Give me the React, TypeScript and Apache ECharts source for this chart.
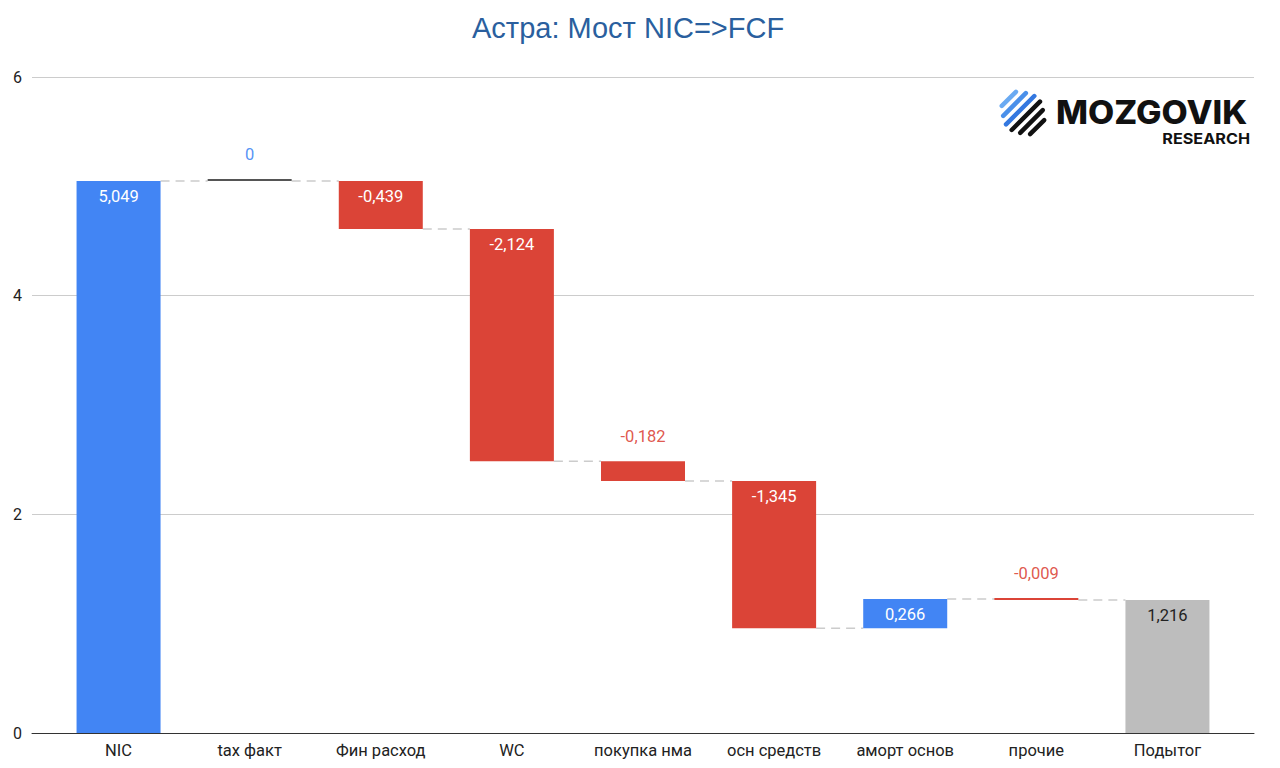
import { useEffect, useRef } from "react";
import * as echarts from "echarts";

const categories = [
  "NIC",
  "tax факт",
  "Фин расход",
  "WC",
  "покупка нма",
  "осн средств",
  "аморт основ",
  "прочие",
  "Подытог",
];
const values = [5.049, 0, -0.439, -2.124, -0.182, -1.345, 0.266, -0.009, 1.216];
const isTotal = [true, false, false, false, false, false, false, false, true];
// where the value label sits: inside the bar or above it
const labelInside = [true, false, true, true, false, true, true, false, true];
const yTicks = [0, 2, 4, 6];

const BLUE = "#4285F4";
const RED = "#DB4437";
const GRAY = "#BDBDBD";

const fmt = (v: number) => (v === 0 ? "0" : v.toFixed(3).replace(".", ","));

export default function App() {
  const chartRef = useRef<HTMLDivElement>(null);

  useEffect(() => {
    if (!chartRef.current) return;
    const chart = echarts.init(chartRef.current, null, { renderer: "svg" });

    // running totals -> invisible base + visible delta
    let running = 0;
    const base: number[] = [];
    const delta: any[] = [];
    const levels: number[] = [];
    values.forEach((v, i) => {
      let start: number, end: number;
      if (isTotal[i]) {
        start = 0;
        end = v;
      } else {
        start = running;
        end = running + v;
      }
      running = end;
      levels.push(end);
      base.push(Math.min(start, end));
      const last = isTotal[i] && i > 0;
      const color = last ? GRAY : v === 0 ? "#555555" : v > 0 ? BLUE : RED;
      const txtColor = last ? "#222222" : v >= 0 ? BLUE : RED;
      delta.push({
        value: Math.abs(v),
        itemStyle: { color },
        label: labelInside[i]
          ? { position: "insideTop", distance: 7, color: last ? "#222222" : "#ffffff" }
          : { position: "top", distance: 16, color: txtColor, opacity: 0.9 },
      });
    });
    const connectors = levels.slice(0, -1).map((lv, i) => [i, lv]);

    chart.setOption({
      animation: false,
      title: {
        text: "Астра: Мост NIC=>FCF",
        left: 467,
        top: 8,
        textStyle: {
          fontFamily: "Liberation Sans",
          fontSize: 29,
          fontWeight: "normal",
          color: "#2a5f9e",
        },
      },
      grid: [
        { left: 53, right: 47, top: 77, bottom: 35 },
        { left: 32, right: 26, top: 77, bottom: 35 },
      ],
      xAxis: [
        {
          type: "category",
          gridIndex: 0,
          data: categories,
          axisTick: { show: false },
          axisLine: { show: false },
          axisLabel: {
            interval: 0,
            color: "#222222",
            fontFamily: "Roboto",
            fontSize: 16.5,
            margin: 9,
          },
        },
        {
          type: "value",
          gridIndex: 1,
          min: 0,
          max: 1,
          axisLabel: { show: false },
          axisTick: { show: false },
          splitLine: { show: false },
          axisLine: { show: true, lineStyle: { color: "#333333", width: 1 } },
        },
      ],
      yAxis: [
        { type: "value", gridIndex: 0, min: 0, max: 6, interval: 2, show: false },
        {
          type: "value",
          gridIndex: 1,
          min: yTicks[0],
          max: yTicks[yTicks.length - 1],
          interval: 2,
          axisLine: { show: false },
          axisTick: { show: false },
          axisLabel: {
            color: "#222222",
            fontFamily: "Roboto",
            fontSize: 16,
            margin: 10,
          },
          splitLine: { lineStyle: { color: "#cccccc", width: 1 } },
        },
      ],
      series: [
        {
          type: "bar",
          stack: "w",
          xAxisIndex: 0,
          yAxisIndex: 0,
          barWidth: 84,
          itemStyle: { color: "transparent" },
          data: base,
          silent: true,
        },
        {
          type: "bar",
          stack: "w",
          xAxisIndex: 0,
          yAxisIndex: 0,
          barWidth: 84,
          barMinHeight: 2,
          data: delta,
          label: {
            show: true,
            fontFamily: "Roboto",
            fontSize: 16.5,
            formatter: (p: any) => fmt(values[p.dataIndex]),
          },
          z: 3,
        },
        {
          type: "custom",
          xAxisIndex: 0,
          yAxisIndex: 0,
          data: connectors,
          z: 2,
          renderItem: (_params: any, api: any) => {
            const i = api.value(0);
            const lv = api.value(1);
            const p0 = api.coord([i, lv]);
            const p1 = api.coord([i + 1, lv]);
            return {
              type: "line",
              shape: { x1: p0[0] + 42, y1: p0[1], x2: p1[0] - 42, y2: p1[1] },
              style: { stroke: "#cccccc", lineWidth: 1.5, lineDash: [9, 6] },
            };
          },
        },
      ],
      graphic: [
        {
          type: "group",
          x: 1023,
          y: 113,
          children: [
            [-20, 10, "#6aaaf2"],
            [-12, 16, "#4a90ea"],
            [-4, 20, "#3478e0"],
            [4, 20, "#111111"],
            [12, 16, "#111111"],
            [20, 10, "#111111"],
          ].map(([d, h, c]: any) => {
            const cx = d / Math.SQRT2;
            const cy = d / Math.SQRT2;
            const ux = h / Math.SQRT2;
            return {
              type: "line",
              shape: { x1: cx - ux, y1: cy + ux, x2: cx + ux, y2: cy - ux },
              style: { stroke: c, lineWidth: 4.5, lineCap: "round" },
            };
          }),
        },
        {
          type: "text",
          x: 1056,
          y: 112,
          scaleX: 1.06,
          style: {
            text: "MOZGOVIK",
            font: "800 32px Inter",
            fill: "#111111",
            verticalAlign: "middle",
          },
        },
        {
          type: "text",
          x: 1250,
          y: 139,
          scaleX: 1.08,
          style: {
            text: "RESEARCH",
            font: "bold 15px Inter",
            fill: "#111111",
            align: "right",
            verticalAlign: "middle",
          },
        },
      ],
    });

    return () => chart.dispose();
  }, []);

  return (
    <div
      ref={chartRef}
      style={{ position: "fixed", left: 0, top: 0, width: 1280, height: 768, background: "#fff" }}
    />
  );
}
